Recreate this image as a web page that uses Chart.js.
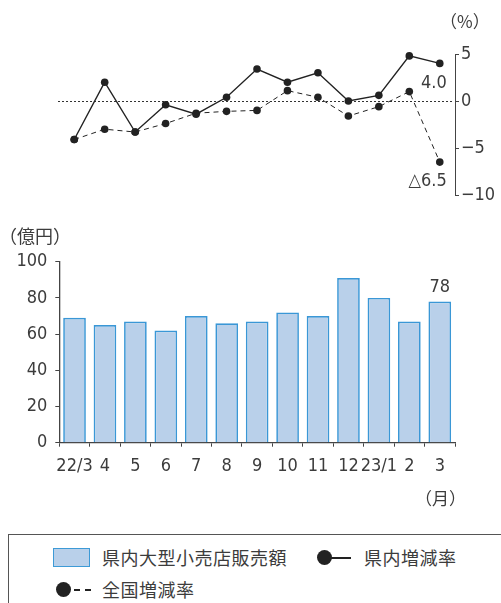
<!DOCTYPE html>
<html lang="ja">
<head>
<meta charset="utf-8">
<script src="https://cdn.jsdelivr.net/npm/chart.js@4/dist/chart.umd.min.js"></script>
<style>
  body {
    margin: 0;
    width: 501px;
    height: 603px;
    overflow: hidden;
    position: relative;
    background: #fff;
    color: #3c3c3c;
    font-family: "Noto Sans CJK JP", sans-serif;
  }
  canvas { position: absolute; left: 0; }
  #rateChart { top: 0; }
  #salesChart { top: 215px; }
  .unit { position: absolute; font-size: 17px; line-height: 1; white-space: nowrap; }
  #legend {
    position: absolute;
    left: 8px;
    top: 534px;
    width: 520px;
    height: 100px;
    border: 1px solid #555;
  }
  .lg { position: absolute; font-size: 18px; letter-spacing: 0.5px; line-height: 1; white-space: nowrap; }
  .swatch { position: absolute; background: #b9d0ea; border: 1.5px solid #3d9ad6; box-sizing: border-box; }
  .dot { position: absolute; width: 15px; height: 15px; border-radius: 50%; background: #222; }
  .dash { position: absolute; height: 1.5px; background: #222; }
</style>
</head>
<body>
<canvas id="rateChart" width="501" height="215"></canvas>
<canvas id="salesChart" width="501" height="305"></canvas>

<div class="unit" style="left:440px; top:12px;">（%）</div>
<div class="unit" style="left:-1px; top:226px; font-size:18px;">（億円）</div>
<div class="unit" style="left:415px; top:489px;">（月）</div>

<div id="legend"></div>
<div class="swatch" style="left:53px; top:548px; width:37px; height:19px;"></div>
<div class="lg" style="left:102px; top:548px;">県内大型小売店販売額</div>
<div class="dot" style="left:317px; top:550px;"></div>
<div class="dash" style="left:330px; top:557px; width:21px;"></div>
<div class="lg" style="left:364px; top:548px;">県内増減率</div>
<div class="dot" style="left:56px; top:582px;"></div>
<div class="dash" style="left:74px; top:589px; width:6px;"></div>
<div class="dash" style="left:85px; top:589px; width:6px;"></div>
<div class="lg" style="left:102px; top:580px;">全国増減率</div>

<script>
// months on the shared x axis
const months = ['22/3', '4', '5', '6', '7', '8', '9', '10', '11', '12', '23/1', '2', '3'];

// large retail store sales in the prefecture (100 million yen)
const salesOku = [69, 65, 67, 62, 70, 66, 67, 72, 70, 91, 80, 67, 78];

// year-on-year change (%), prefecture and nationwide
const prefRate = [-4.1, 2.0, -3.3, -0.4, -1.4, 0.4, 3.4, 2.0, 3.0, 0.0, 0.6, 4.8, 4.0];
const nationalRate = [-4.1, -3.0, -3.3, -2.4, -1.3, -1.1, -1.0, 1.1, 0.4, -1.6, -0.6, 1.0, -6.5];

// axis ticks
const rateTicks = [5, 0, -5, -10];
const salesTicks = [0, 20, 40, 60, 80, 100];

const numFont = { family: '"Liberation Sans Narrow", "DejaVu Sans Condensed", sans-serif', size: 18 };
const textColor = '#3c3c3c';
const axisColor = '#444';

// negative rates are written with a triangle, as in japanese reports
function rateText(v) {
    return v < 0 ? '△' + Math.abs(v).toFixed(1) : v.toFixed(1);
}

// dotted line along the zero value
const zeroLine = {
    id: 'zeroLine',
    beforeDatasetsDraw(chart) {
        const { ctx, chartArea } = chart;
        const y = Math.round(chart.scales.y.getPixelForValue(0)) + 0.5;
        ctx.save();
        ctx.strokeStyle = '#333';
        ctx.lineWidth = 1;
        ctx.setLineDash([2, 2]);
        ctx.beginPath();
        ctx.moveTo(chartArea.left - 1, y);
        ctx.lineTo(chartArea.right - 2, y);
        ctx.stroke();
        ctx.restore();
    }
};

// value labels for the last month of each rate line
const lastRateLabels = {
    id: 'lastRateLabels',
    afterDatasetsDraw(chart) {
        const ctx = chart.ctx;
        ctx.save();
        ctx.font = numFont.size + 'px ' + numFont.family;
        ctx.fillStyle = textColor;
        ctx.textAlign = 'right';
        ctx.textBaseline = 'middle';
        chart.data.datasets.forEach((ds, di) => {
            const meta = chart.getDatasetMeta(di);
            const last = ds.data.length - 1;
            const pt = meta.data[last];
            ctx.fillText(rateText(ds.data[last]), pt.x + 7, pt.y + 19.5);
        });
        ctx.restore();
    }
};

// value label above the last bar
const lastBarLabel = {
    id: 'lastBarLabel',
    afterDatasetsDraw(chart) {
        const ctx = chart.ctx;
        const ds = chart.data.datasets[0];
        const last = ds.data.length - 1;
        const bar = chart.getDatasetMeta(0).data[last];
        ctx.save();
        ctx.font = numFont.size + 'px ' + numFont.family;
        ctx.fillStyle = textColor;
        ctx.textAlign = 'center';
        ctx.textBaseline = 'bottom';
        ctx.fillText(String(ds.data[last]), bar.x, bar.y - 5);
        ctx.restore();
    }
};

// rate lines, y axis on the right
new Chart(document.getElementById('rateChart'), {
    type: 'line',
    data: {
        labels: months,
        datasets: [{
            label: '県内増減率',
            data: prefRate,
            borderColor: '#222',
            borderWidth: 1.4,
            pointRadius: 3.8,
            pointBackgroundColor: '#222',
            pointBorderWidth: 0,
            tension: 0,
            clip: false
        }, {
            label: '全国増減率',
            data: nationalRate,
            borderColor: '#222',
            borderWidth: 1,
            borderDash: [5, 4],
            pointRadius: 3.8,
            pointBackgroundColor: '#222',
            pointBorderWidth: 0,
            tension: 0,
            clip: false
        }]
    },
    options: {
        responsive: false,
        animation: false,
        devicePixelRatio: 1,
        layout: { padding: { top: 54, left: 59, right: 0, bottom: 20 } },
        plugins: { legend: { display: false }, tooltip: { enabled: false } },
        scales: {
            x: { display: false, offset: true },
            y: {
                position: 'right',
                min: -10,
                max: 5,
                afterFit(scale) { scale.width = 46; },
                afterBuildTicks(scale) { scale.ticks = rateTicks.map(v => ({ value: v })); },
                grid: { drawOnChartArea: false, tickLength: 4, tickColor: axisColor },
                border: { color: axisColor, width: 1 },
                ticks: {
                    color: textColor,
                    font: numFont,
                    padding: 2,
                    callback: v => v < 0 ? '−' + Math.abs(v) : String(v)
                }
            }
        }
    },
    plugins: [zeroLine, lastRateLabels]
});

// monthly sales bars
new Chart(document.getElementById('salesChart'), {
    type: 'bar',
    data: {
        labels: months,
        datasets: [{
            label: '県内大型小売店販売額',
            data: salesOku,
            backgroundColor: '#b9d0ea',
            borderColor: '#3a97d6',
            borderWidth: 1.7,
            borderSkipped: 'bottom',
            categoryPercentage: 1,
            barPercentage: 0.745
        }]
    },
    options: {
        responsive: false,
        animation: false,
        devicePixelRatio: 1,
        layout: { padding: { top: 46.7, left: 0, right: 46, bottom: 37.3 } },
        plugins: { legend: { display: false }, tooltip: { enabled: false } },
        scales: {
            x: {
                afterFit(scale) { scale.height = 40; },
                grid: { drawOnChartArea: false, offset: true, tickLength: 4, tickColor: axisColor },
                border: { color: axisColor, width: 1.3 },
                ticks: { color: textColor, font: numFont, padding: 9, maxRotation: 0, autoSkip: false }
            },
            y: {
                min: 0,
                max: 100,
                afterFit(scale) { scale.width = 59.3; },
                afterBuildTicks(scale) { scale.ticks = salesTicks.map(v => ({ value: v })); },
                grid: { drawOnChartArea: false, tickLength: 4, tickColor: axisColor },
                border: { color: axisColor, width: 1.3 },
                ticks: { color: textColor, font: numFont, padding: 8 }
            }
        }
    },
    plugins: [lastBarLabel]
});
</script>
</body>
</html>
